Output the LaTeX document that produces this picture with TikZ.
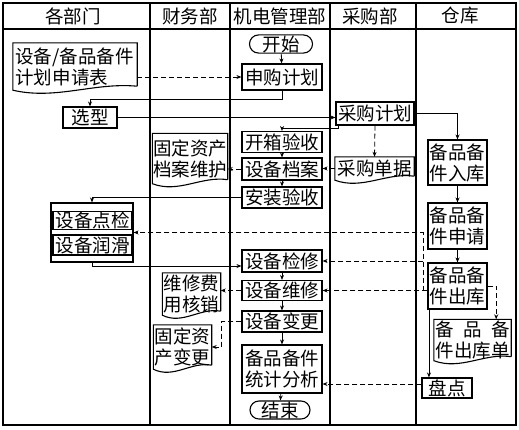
\documentclass[tikz,border=0pt]{standalone}
\usepackage{fontspec}
\newfontfamily\zhfont{Noto Sans CJK SC}
\usetikzlibrary{arrows.meta, calc}
\tikzset{
    frame/.style={line width=1.2pt, black},
    head/.style={font=\zhfont\fontsize{18.5}{22}\selectfont},
    proc/.style={draw=black, line width=1.1pt, inner sep=0.5pt, align=center, font=\zhfont\fontsize{18.5}{21}\selectfont},
    term/.style={proc, rounded corners=9pt, minimum height=18pt},
    docnode/.style={inner sep=0pt, align=center, font=\zhfont\fontsize{18.5}{21}\selectfont},
    flow/.style={->, >={Stealth[length=5pt, width=4pt]}, line width=0.8pt},
    dflow/.style={flow, dash pattern=on 5pt off 3pt}
}
% document outline with wavy bottom
\newcommand{\docline}[1]{%
  \draw[line width=1.1pt] ($(#1.south east)+(0,-4)$) -- (#1.north east) -- (#1.north west) -- (#1.south west)
    .. controls ($(#1.south west)!0.35!(#1.south east)+(0,10)$) and ($(#1.south west)!0.65!(#1.south east)+(0,-8)$) .. ($(#1.south east)+(0,-4)$);}

\begin{document}
\begin{tikzpicture}[x=1pt, y=-1pt]
    \useasboundingbox (0,0) rectangle (519,429);
    % swimlanes
    \draw[frame] (3,3) rectangle (516,425);
    \draw[frame] (3,29) -- (516,29);
    \foreach \x in {150,230,330,416}
        \draw[frame] (\x,3) -- (\x,425);
    \foreach \x/\t [count=\i] in {73/各部门, 190/财务部, 280/机电管理部, 370/采购部, 460/仓库}
        \node[head] (hd\i) at (\x,16) {\t};

    % 机电管理部
    \node[term, minimum width=63pt] (ks) at (281,44) {开始};
    \node[proc, minimum width=80pt, minimum height=26pt] (sg) at (282,77) {申购计划};
    \node[proc, minimum width=80pt, minimum height=21pt] (kx) at (282,142) {开箱验收};
    \node[proc, minimum width=80pt, minimum height=22pt] (da) at (282,169) {设备档案};
    \node[proc, minimum width=80pt, minimum height=21pt] (az) at (282,197.5) {安装验收};
    \node[proc, minimum width=80pt, minimum height=22pt] (jx) at (282,261) {设备检修};
    \node[proc, minimum width=80pt, minimum height=20pt] (wx) at (282,290.5) {设备维修};
    \node[proc, minimum width=80pt, minimum height=21pt] (bg) at (282,321.5) {设备变更};
    \node[proc, minimum width=80pt, minimum height=48pt] (tj) at (282,369) {备品备件\\统计分析};
    \node[term, minimum width=60pt] (js) at (280,410) {结束};

    % 各部门
    \node[docnode, minimum width=124pt, minimum height=47pt, text width=119pt, align=left] (sqb) at (75,66.5) {设备/备品备件\\计划申请表};
    \node[proc, minimum width=54pt, minimum height=21pt] (xx) at (90,117.5) {选型};
    \node[draw=black, line width=1.1pt, minimum width=82pt, minimum height=59pt] (grp) at (92,232.5) {};
    \node[proc, inner sep=0pt, minimum width=79pt, minimum height=18pt] (dj) at (92.5,220.5) {设备点检};
    \node[proc, inner sep=0pt, minimum width=79pt, minimum height=20pt] (rh) at (92.5,245) {设备润滑};

    % 财务部
    \node[docnode, minimum width=75pt, minimum height=50pt] (dwh) at (190,158.5) {固定资产\\档案维护};
    \node[docnode, minimum width=58pt, minimum height=42pt] (wxf) at (191.5,294) {维修费\\用核销};
    \node[docnode, minimum width=58pt, minimum height=44pt] (gb) at (182.5,347) {固定资\\产变更};

    % 采购部
    \node[proc, minimum width=78pt, minimum height=23pt] (cg) at (375,113.5) {采购计划};
    \node[docnode, minimum width=79pt, minimum height=23pt] (cd) at (374.5,168.5) {采购单据};

    % 仓库
    \node[proc, minimum width=59pt, minimum height=45pt] (rk) at (457.5,162.5) {备品备\\件入库};
    \node[proc, minimum width=59pt, minimum height=46pt] (sq) at (457.5,226) {备品备\\件申请};
    \node[proc, minimum width=59pt, minimum height=46pt] (ck) at (457.5,286) {备品备\\件出库};
    \node[docnode, minimum width=77pt, minimum height=41pt] (ckd) at (472.5,340) {\makebox[4em][s]{备\hfill 品\hfill 备}\\件出库单};
    \node[proc, minimum width=50pt, minimum height=20pt] (pd) at (447,388) {盘点};

    \docline{sqb}
    \docline{dwh}
    \docline{wxf}
    \docline{gb}
    \docline{cd}
    \docline{ckd}

    % connectors
    \draw[flow] (ks) -- (sg);
    \draw[dflow] (sqb.east |- sg.west) -- (sg.west);
    \draw[flow] (sg.south) -- ++(0,9) -| (xx.north);
    \draw[flow] (xx.east) -- (xx.east -| cg.west);
    \draw[flow] (cg.east) -| (rk.north);
    \draw[flow] ([xshift=3pt]cg.south west) -- ++(0,2.5) -| (kx.north);
    \draw[dflow] (cg.south) -- (cd.north);
    \draw[dflow] (cd.west) -- (cd.west -| da.east);
    \draw[flow] (kx) -- (da);
    \draw[flow] (da) -- (az);
    \draw[dflow] (da.west) -- (da.west -| dwh.east);
    \draw[flow] (az.west) -| (grp.north);
    \draw[flow] (grp.south) |- ([yshift=-5pt]jx.west);
    \coordinate (br) at ($(ck.west |- wx.east)+(-4,0)$);
    \draw[dflow] (ck.west |- wx.east) -- (wx.east);
    \draw[dflow] (br) |- (grp.east);
    \draw[dflow] (br |- jx.east) -- (jx.east);
    \draw[flow] (jx) -- (wx);
    \draw[flow] (wx) -- (bg);
    \draw[flow] (bg) -- (tj);
    \draw[flow] (tj) -- (js);
    \draw[dflow] (wx.west) -- (wx.west -| wxf.east);
    \draw[dflow] (bg.west) -- ++(-20,0) |- (gb.east);
    \draw[flow] (rk) -- (sq);
    \draw[flow] (sq) -- (ck);
    \draw[dflow] (ck.east) -| ($(ckd.north east)+(-15,0)$);
    \draw[flow] ([xshift=1.5pt]ck.south west) -- ([xshift=1.5pt]ck.south west |- pd.north);
    \draw[dflow] ([yshift=4pt]pd.west) -- ([yshift=4pt]pd.west -| tj.east);
\end{tikzpicture}
\end{document}
